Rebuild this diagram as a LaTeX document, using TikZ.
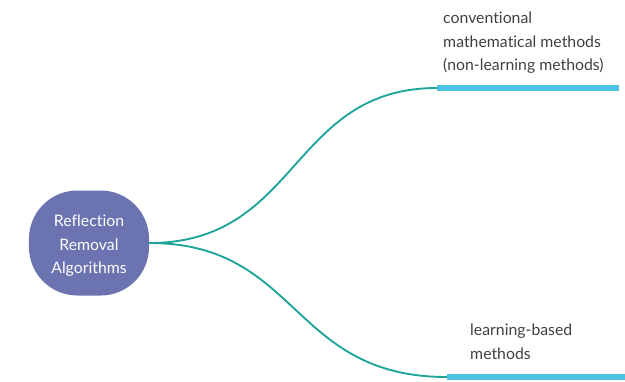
\documentclass[tikz,border=0pt]{standalone}
\usepackage{fontspec}
\setmainfont{Lato}[Ligatures={NoCommon,NoRare}, Contextuals=NoAlternate]
\usetikzlibrary{calc}

\definecolor{rootblue}{HTML}{6B74B0}
\definecolor{branchteal}{HTML}{1FA597}
\definecolor{barcyan}{HTML}{4BC3E0}
\definecolor{labelgray}{HTML}{404040}

\begin{document}
\begin{tikzpicture}[x=0.03cm, y=-0.03cm,
    branch/.style={branchteal, line width=1.6pt},
    bar/.style={barcyan, line width=5pt},
    leaf/.style={labelgray, font=\fontsize{13.5}{20}\selectfont, align=left, anchor=north west, inner sep=0pt}]
    \useasboundingbox (0, 0) rectangle (625, 381);

    % root bubble and its text
    \node[fill=rootblue, rounded corners=1.45cm, minimum width=3.6cm, minimum height=3.15cm] (root) at (89, 243) {};
    \node[text=white, align=center, font=\fontsize{13.5}{20}\selectfont] (rootlabel) at (89, 246) {Reflection\\Removal\\Algorithms};

    \coordinate (top) at (437, 88);
    \coordinate (topend) at (619, 88);
    \coordinate (bottom) at (447, 377);
    \coordinate (bottomend) at (625, 377);

    \draw[branch] (root.east) .. controls (300, 243) and (290, 88) .. (top);
    \draw[branch] (root.east) .. controls (300, 243) and (290, 377) .. (bottom);

    \draw[bar] (top) -- (topend);
    \draw[bar] (bottom) -- (bottomend);

    % \kern0pt keeps Lato from joining t and i
    \node[leaf] (conv) at (443, 12) {conventional\\mathema\kern0pt tical methods\\(non-learning methods)};
    \node[leaf] (learn) at (470, 324) {learning-based\\methods};
\end{tikzpicture}
\end{document}
